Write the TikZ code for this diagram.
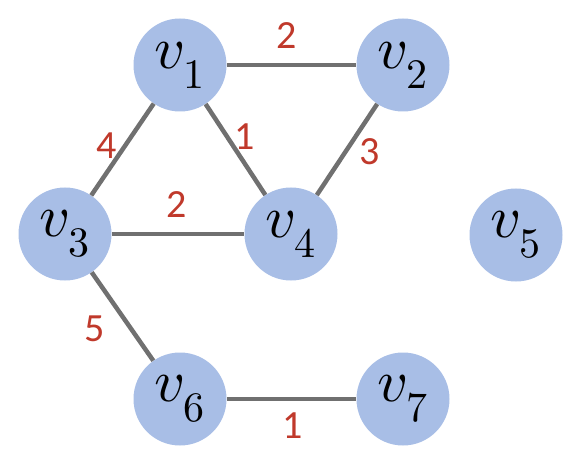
\documentclass[tikz,border=0pt]{standalone}
\usepackage{fontspec}
\usepackage{unicode-math}
\setmathfont{Latin Modern Math}
\newfontfamily\labfont{Carlito}
\definecolor{nodefill}{RGB}{168,190,230}
\definecolor{edgegray}{RGB}{112,112,112}
\definecolor{labred}{RGB}{192,57,43}
\newcommand{\vlab}[1]{$v_{\raisebox{-5pt}{$\scriptstyle #1$}}$}
\begin{document}
\begin{tikzpicture}[x=1pt,y=-1pt,
  vert/.style={circle,fill=nodefill,minimum size=93pt,inner sep=0pt,font=\fontsize{60}{64}\selectfont},
  edge/.style={draw=edgegray,line width=4.5pt},
  wlab/.style={text=labred,font=\labfont\fontsize{40}{44}\selectfont,inner sep=0pt}]
\path[use as bounding box] (0,0) rectangle (580,462);
\node[vert] (v1) at (180,65) {\vlab{1}};
\node[vert] (v2) at (403,65) {\vlab{2}};
\node[vert] (v3) at (65,234) {\vlab{3}};
\node[vert] (v4) at (291,234) {\vlab{4}};
\node[vert] (v5) at (516,235) {\vlab{5}};
\node[vert] (v6) at (180,399) {\vlab{6}};
\node[vert] (v7) at (403,399) {\vlab{7}};
\draw[edge] (v1) -- (v2);
\draw[edge] (v1) -- (v3);
\draw[edge] (v1) -- (v4);
\draw[edge] (v2) -- (v4);
\draw[edge] (v3) -- (v4);
\draw[edge] (v3) -- (v6);
\draw[edge] (v6) -- (v7);
\node[wlab] (l12) at (287,36) {2};
\node[wlab] (l13) at (107,146) {4};
\node[wlab] (l14) at (245,137) {1};
\node[wlab] (l24) at (370,152) {3};
\node[wlab] (l34) at (177,205) {2};
\node[wlab] (l36) at (95,329) {5};
\node[wlab] (l67) at (293,426) {1};
\end{tikzpicture}
\end{document}
